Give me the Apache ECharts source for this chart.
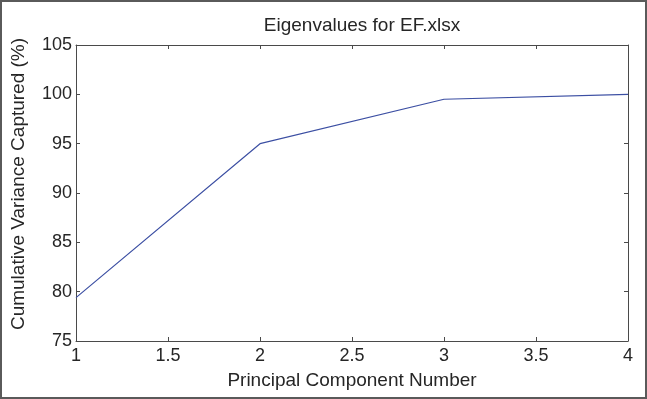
<!DOCTYPE html>
<html>
<head>
<meta charset="utf-8">
<script src="https://cdn.jsdelivr.net/npm/echarts@6/dist/echarts.min.js"></script>
<style>
html, body { margin: 0; padding: 0; background: #fff; }
#chart { width: 647px; height: 399px; }
</style>
</head>
<body>
<div id="chart"></div>
<script>
// 数据
var componentNumbers = [1, 2, 3, 4];
var cumulativeVariance = [79.4, 95.0, 99.5, 100.0];
var xTicks = [1, 1.5, 2, 2.5, 3, 3.5, 4];
var yTicks = [75, 80, 85, 90, 95, 100, 105];

var font = 'Liberation Sans, Arial, sans-serif';
var axisColor = '#4a4a4a';
var textColor = '#262626';

var points = componentNumbers.map(function(x, i) {
	return [x, cumulativeVariance[i]];
});

// 边框轴: 只画刻度，不画标签
function boxAxis(pos, min, max, interval) {
	return {
		type : 'value',
		position : pos,
		min : min,
		max : max,
		interval : interval,
		axisLine : { show : true, lineStyle : { color : axisColor, width : 1 } },
		axisTick : { show : true, inside : true, length : 4, lineStyle : { color : axisColor } },
		axisLabel : { show : false },
		splitLine : { show : false }
	};
}

var chart = echarts.init(document.getElementById('chart'));
chart.setOption({
	animation : false,
	backgroundColor : '#fff',
	title : {
		text : 'Eigenvalues for EF.xlsx',
		left : 357,
		top : 11,
		textAlign : 'center',
		textStyle : { fontFamily : font, fontSize : 19, fontWeight : 'normal', color : textColor }
	},
	grid : {
		left : 76,
		top : 45,
		right : 19,
		bottom : 58
	},
	xAxis : [{
		type : 'value',
		position : 'bottom',
		min : xTicks[0],
		max : xTicks[xTicks.length - 1],
		interval : 0.5,
		name : 'Principal Component Number',
		nameLocation : 'middle',
		nameGap : 30,
		nameTextStyle : { fontFamily : font, fontSize : 19, color : textColor },
		axisLine : { show : true, onZero : false, lineStyle : { color : axisColor } },
		axisTick : { show : true, inside : true, length : 4, lineStyle : { color : axisColor } },
		axisLabel : { fontFamily : font, fontSize : 18, color : textColor, margin : 6 },
		splitLine : { show : false }
	}, boxAxis('top', xTicks[0], xTicks[xTicks.length - 1], 0.5)],
	yAxis : [{
		type : 'value',
		position : 'left',
		min : yTicks[0],
		max : yTicks[yTicks.length - 1],
		interval : 5,
		axisLine : { show : true, onZero : false, lineStyle : { color : axisColor } },
		axisTick : { show : true, inside : true, length : 4, lineStyle : { color : axisColor } },
		axisLabel : { fontFamily : font, fontSize : 18, color : textColor, margin : 4 },
		splitLine : { show : false }
	}, boxAxis('right', yTicks[0], yTicks[yTicks.length - 1], 5)],
	series : [{
		type : 'line',
		data : points,
		showSymbol : false,
		lineStyle : { color : '#3c4fa3', width : 1.2 }
	}],
	graphic : [{
		// y轴名称 (位置略高于绘图区中心)
		type : 'text',
		x : 19,
		y : 184,
		rotation : Math.PI / 2,
		silent : true,
		style : {
			text : 'Cumulative Variance Captured (%)',
			fontFamily : font,
			fontSize : 19,
			fill : textColor,
			align : 'center',
			verticalAlign : 'middle'
		}
	}, {
		type : 'rect',
		shape : { x : 1, y : 1, width : 645, height : 397 },
		style : { fill : 'none', stroke : '#5a5a5a', lineWidth : 2 },
		silent : true
	}]
});
</script>
</body>
</html>
